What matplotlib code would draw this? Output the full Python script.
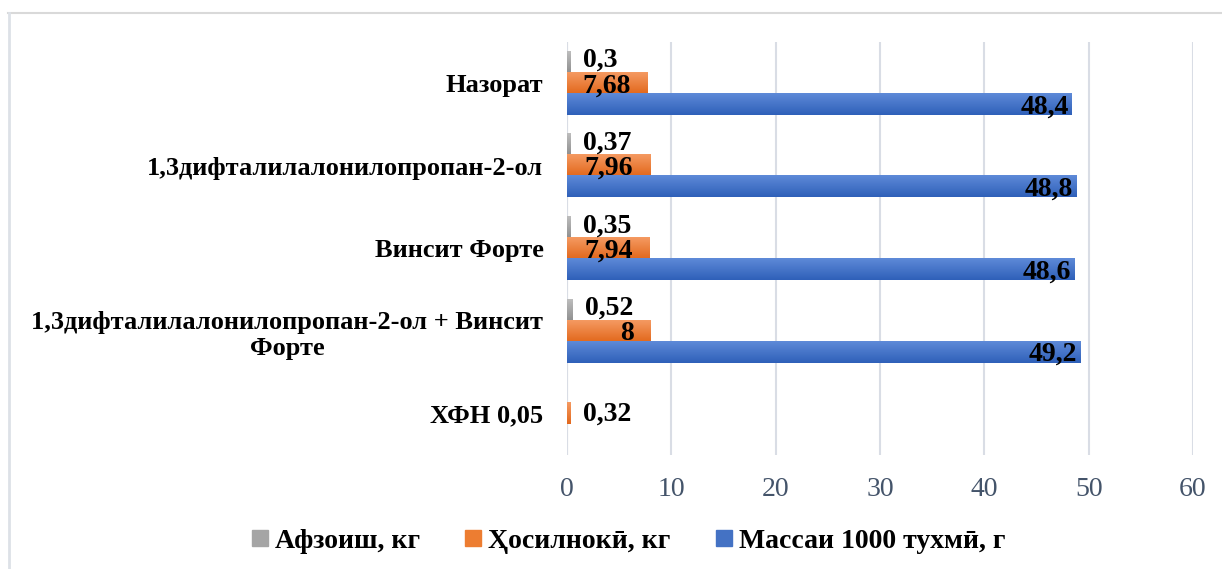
import matplotlib
matplotlib.use("Agg")
import matplotlib.pyplot as plt
import numpy as np
from matplotlib.lines import Line2D
from matplotlib.colors import LinearSegmentedColormap

categories = ["Назорат", "1,3дифталилалонилопропан-2-ол", "Винсит Форте",
              "1,3дифталилалонилопропан-2-ол + Винсит\nФорте", "ХФН 0,05"]
series_names = ["Афзоиш, кг", "Ҳосилнокӣ, кг", "Массаи 1000 тухмӣ, г"]
afzoish = [0.3, 0.37, 0.35, 0.52, None]
hosilnoki = [7.68, 7.96, 7.94, 8, 0.32]
massa = [48.4, 48.8, 48.6, 49.2, None]
xticks = [0, 10, 20, 30, 40, 50, 60]

colors = ["#a5a5a5", "#ed7d31", "#4472c4"]
grad = [("#bdbdbd", "#8f8f8f"), ("#f59a62", "#e2681c"), ("#5e8ad8", "#2f60b9")]
plt.rcParams['font.family'] = ['Liberation Serif', 'DejaVu Serif']

fig = plt.figure(figsize=(12.22, 5.69), dpi=100)
ax = fig.add_axes([567/1222, 1-455/569, (1193-567)/1222, (455-42)/569])

y = np.arange(len(categories))
h = 0.255
offsets = [-h, 0, h]
all_series = [afzoish, hosilnoki, massa]
inside_gap = [None, 1.6, 0.3]

def fmt(v):
    return ("%g" % v).replace(".", ",")

ax.set_ylim(len(categories) - 0.5, -0.5)
ax.set_xlim(0, 60)

for si, (vals, off) in enumerate(zip(all_series, offsets)):
    cmap = LinearSegmentedColormap.from_list("g%d" % si, [grad[si][0], grad[si][1]])
    for i, v in enumerate(vals):
        if v is None:
            continue
        bars = ax.barh(y[i] + off, v, height=h, color=colors[si], zorder=3)
        b = bars[0]
        x0, yb, w, hh = b.get_x(), b.get_y(), b.get_width(), b.get_height()
        g = np.linspace(0, 1, 64).reshape(-1, 1)
        ax.imshow(g, cmap=cmap, aspect="auto", extent=(x0, x0 + w, yb + hh, yb),
                  zorder=3.5, interpolation="bilinear")
        if si == 0:
            ax.text(v + 1.2, y[i] + off - 0.02, fmt(v), ha="left", va="center",
                    fontsize=20, fontweight="bold", zorder=4)
        elif v < 1:
            ax.text(v + 1.2, y[i] + off, fmt(v), ha="left", va="center",
                    fontsize=20, fontweight="bold", zorder=4)
        else:
            ax.text(v - inside_gap[si], y[i] + off + 0.03, fmt(v), ha="right",
                    va="center", fontsize=20, fontweight="bold", zorder=4)

ax.set_ylim(len(categories) - 0.5, -0.5)
ax.set_xlim(0, 60)
ax.set_xticks(xticks)
ax.set_xticklabels([str(t) for t in xticks], fontsize=20, color="#44546a")
ax.set_yticks(y)
ax.set_yticklabels(categories, fontsize=19, fontweight="bold")
for lab in ax.get_yticklabels():
    lab.set_multialignment("center")
ax.tick_params(axis="y", length=0, pad=17)
ax.tick_params(axis="x", length=0, pad=16)

ax.grid(axis="x", color="#d9dde5", linewidth=1.5, zorder=0)
ax.set_axisbelow(True)
for s in ax.spines.values():
    s.set_visible(False)
ax.axvline(0, color="#d9dde5", linewidth=1.5, zorder=2)

handles = [Line2D([], [], marker="s", linestyle="none", markersize=11,
                  markerfacecolor=c, markeredgecolor=c) for c in colors]
fig.legend(handles, series_names, loc="center", bbox_to_anchor=(0.512, 0.049),
           ncol=3, frameon=False, prop={"size": 20, "weight": "bold"},
           handletextpad=0.05, columnspacing=1.4, handlelength=1.0)

# outer chart border (top and left visible)
fig.add_artist(Line2D([8/1222, 1], [1-13/569, 1-13/569], color="#d9d9d9",
                      linewidth=1.5, transform=fig.transFigure))
fig.add_artist(Line2D([8.5/1222, 8.5/1222], [0, 1-13/569], color="#dde1e7",
                      linewidth=2, transform=fig.transFigure))

fig.savefig("out.png", dpi=100)
